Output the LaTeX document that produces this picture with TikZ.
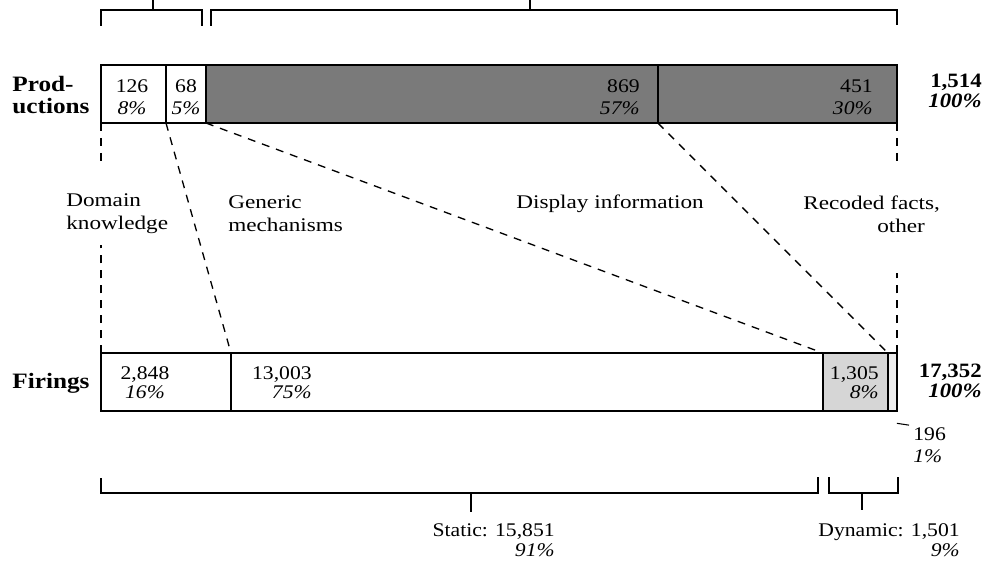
\documentclass[tikz,border=0pt]{standalone}
\usepackage{fontspec}
\setmainfont{Liberation Serif}[FakeStretch=1.12]
\newfontfamily\labfont{Liberation Serif}[FakeStretch=1.2]
\newfontfamily\headfont{Liberation Serif}[FakeStretch=1.15]
\usetikzlibrary{positioning}

\begin{document}
\begin{tikzpicture}[x=0.02cm, y=-0.02cm,
    seg/.style={draw, line width=0.85pt, inner sep=0pt, outer sep=0pt, minimum height=1.16cm, anchor=west},
    shade/.style={fill=black!52},
    light/.style={fill=black!16},
    num/.style={font=\fontsize{11}{12.5}\selectfont, inner sep=0pt},
    low/.style={font=\fontsize{11}{10.6}\selectfont, inner sep=0pt},
    tot/.style={font=\bfseries\fontsize{11.6}{11}\selectfont, inner sep=0pt, align=right, anchor=east},
    lab/.style={font=\labfont\fontsize{11}{13.3}\selectfont, inner sep=0pt, align=left},
    head/.style={font=\headfont\bfseries\fontsize{12.5}{12.5}\selectfont, inner sep=0pt, align=left, anchor=west},
    link/.style={line width=0.75pt, dash pattern=on 4.5pt off 4pt},
    brak/.style={line width=0.8pt}]
    \useasboundingbox (0,0) rectangle (986,571);

    % productions bar
    \node[seg, minimum width=1.30cm] (pdk) at (101,94) {};
    \node[seg, minimum width=0.80cm] (pgm) at (pdk.east) {};
    \node[seg, shade, minimum width=9.04cm] (pdi) at (pgm.east) {};
    \node[seg, shade, minimum width=4.78cm] (prf) at (pdi.east) {};

    % firings bar
    \node[seg, minimum width=2.60cm] (fdk) at (101,382) {};
    \node[seg, minimum width=11.84cm] (fgm) at (fdk.east) {};
    \node[seg, light, minimum width=1.30cm] (fdi) at (fgm.east) {};
    \node[seg, fill=black!7, minimum width=0.18cm] (frf) at (fdi.east) {};

    % counts
    \node[num, align=center] (npdk) at (132,97.5) {126\\\textit{8\%}};
    \node[num, align=center] (npgm) at (186,97.5) {68\\\textit{5\%}};
    \node[num, align=right, anchor=east] (npdi) at (640,97.5) {869\\\textit{57\%}};
    \node[num, align=right, anchor=east] (nprf) at (873,97.5) {451\\\textit{30\%}};
    \node[low, align=center] (nfdk) at (145,382.5) {2,848\\\textit{16\%}};
    \node[low, align=right, anchor=east] (nfgm) at (312,382.5) {13,003\\\textit{75\%}};
    \node[low, align=right, anchor=east] (nfdi) at (879,382.5) {1,305\\\textit{8\%}};
    \node[num, align=left, anchor=west] (nfrf) at (913,445) {196\\\textit{1\%}};
    \draw[line width=0.6pt] ([yshift=-7]frf.south east) -- ([shift={(-4,-2)}]nfrf.north west);

    % row heads and totals
    \node[head] (prod) at (12,95) {Prod-\\uctions};
    \node[head] (fire) at (12,383) {Firings};
    \node[tot] (ptot) at (982,91) {1,514\\\textit{100\%}};
    \node[tot] (ftot) at (982,381) {17,352\\\textit{100\%}};

    % categories
    \node[lab, anchor=west] (dk) at (66,214) {Domain\\knowledge};
    \node[lab, anchor=west] (gm) at (228,214) {Generic\\mechanisms};
    \node[lab, anchor=west] (di) at (516,204) {Display information};
    \node[lab, align=right, anchor=west] (rf) at (803,214) {Recoded facts,\\other\hspace*{8.5pt}};

    % dashed links between the bars
    \draw[link] (pdk.south west) -- ++(0,40);
    \draw[link] (fdk.north west) -- ++(0,-108);
    \draw[link] (pgm.south west) -- (fgm.north west);
    \draw[link] (pdi.south west) -- (fdi.north west);
    \draw[link] (prf.south west) -- (frf.north west);
    \draw[link] (prf.south east) -- ++(0,42);
    \draw[link] (frf.north east) -- ++(0,-80);

    % brackets
    \draw[brak] (101,26) -- (101,10) -- (202,10) -- (202,26);
    \draw[brak] (153,10) -- (153,0);
    \draw[brak] (211,26) -- (211,10) -- (897,10) -- (897,25);
    \draw[brak] (530,10) -- (530,0);
    \draw[brak] (101,478) -- (101,493) -- (818,493) -- (818,477);
    \draw[brak] (471,493) -- (471,512);
    \draw[brak] (829,477) -- (829,493) -- (898,493) -- (898,477);
    \draw[brak] (862,493) -- (862,510);

    \node[num, font=\fontsize{11}{11.4}\selectfont, align=right, anchor=east] (stat) at (555,540) {Static: 15,851\\\textit{91\%}};
    \node[num, font=\fontsize{11}{11.4}\selectfont, align=right, anchor=east] (dyn) at (960,540) {Dynamic: 1,501\\\textit{9\%}};
\end{tikzpicture}
\end{document}
